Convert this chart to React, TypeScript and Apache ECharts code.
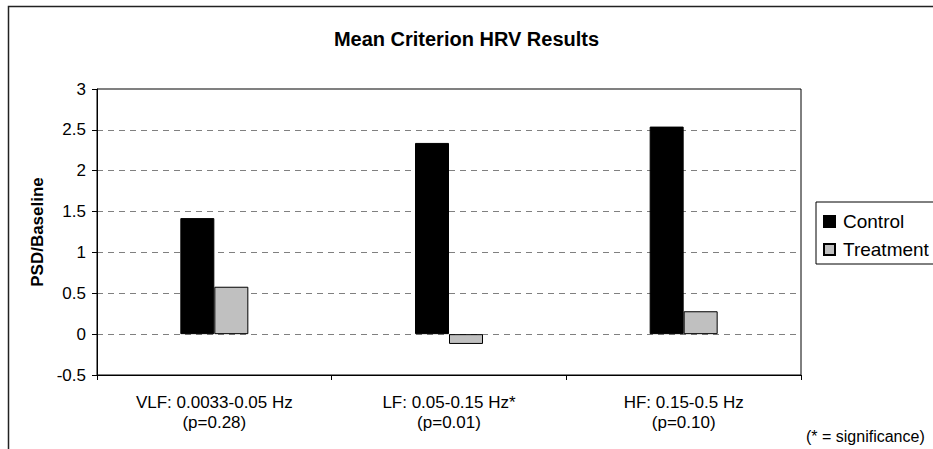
import React, { useEffect, useRef } from "react";
import * as echarts from "echarts";

const categories = ["VLF: 0.0033-0.05 Hz\n(p=0.28)", "LF: 0.05-0.15 Hz*\n(p=0.01)", "HF: 0.15-0.5 Hz\n(p=0.10)"];
const controlValues = [1.42, 2.34, 2.54];
const treatmentValues = [0.58, -0.12, 0.28];
const seriesNames = ["Control", "Treatment"];
const titleText = "Mean Criterion HRV Results";
const yAxisName = "PSD/Baseline";
const noteText = "(* = significance)";

const FONT = "'Liberation Sans', Arial, sans-serif";

export default function App() {
  const ref = useRef<HTMLDivElement>(null);
  useEffect(() => {
    document.body.style.margin = "0";
    const chart = echarts.init(ref.current!, null, { renderer: "svg" });
    chart.setOption({
      animation: false,
      backgroundColor: "#ffffff",
      textStyle: { fontFamily: FONT, color: "#000" },
      title: {
        text: titleText,
        left: "center",
        top: 24,
        textStyle: { fontFamily: FONT, fontSize: 20, fontWeight: "bold", color: "#000" },
      },
      legend: {
        orient: "vertical",
        left: 816,
        top: 202,
        padding: [10, 12, 5, 7],
        itemGap: 9,
        itemWidth: 11,
        itemHeight: 11,
        icon: "rect",
        borderColor: "#000",
        borderWidth: 1,
        textStyle: { fontFamily: FONT, fontSize: 19, color: "#000", padding: [0, 0, 0, 3] },
        data: seriesNames,
      },
      grid: {
        left: 97,
        top: 89,
        right: 132,
        bottom: 74,
        show: true,
        borderColor: "#000",
        borderWidth: 1,
        containLabel: false,
      },
      xAxis: {
        type: "category",
        data: categories,
        axisLine: { show: true, onZero: false, lineStyle: { color: "#000", width: 1 } },
        axisTick: { show: true, alignWithLabel: false, interval: 0, length: 5, lineStyle: { color: "#000" } },
        axisLabel: { interval: 0, fontFamily: FONT, fontSize: 17, lineHeight: 20, color: "#000", margin: 17, align: "center" },
        splitLine: { show: false },
      },
      yAxis: {
        type: "value",
        min: -0.5,
        max: 3,
        interval: 0.5,
        name: yAxisName,
        nameLocation: "middle",
        nameRotate: 90,
        nameGap: 49,
        nameTextStyle: { fontFamily: FONT, fontSize: 17, fontWeight: "bold", color: "#000" },
        axisLine: { show: true, lineStyle: { color: "#000", width: 1 } },
        axisTick: { show: true, length: 5, lineStyle: { color: "#000" } },
        axisLabel: { fontFamily: FONT, fontSize: 17, color: "#000", margin: 11 },
        splitLine: { show: true, lineStyle: { color: "#808080", type: [6, 5], width: 1 } },
      },
      series: [
        {
          name: seriesNames[0],
          type: "bar",
          data: controlValues,
          barWidth: 34,
          barGap: "0%",
          itemStyle: { color: "#000000", borderColor: "#000", borderWidth: 1 },
        },
        {
          name: seriesNames[1],
          type: "bar",
          data: treatmentValues,
          barWidth: 34,
          barGap: "0%",
          itemStyle: { color: "#C0C0C0", borderColor: "#000", borderWidth: 1 },
        },
      ],
      graphic: [
        {
          type: "rect",
          silent: true,
          shape: { x: 8.5, y: 6.5, width: 1000, height: 1000 },
          style: { fill: "none", stroke: "#222", lineWidth: 1.5 },
        },
        {
          type: "text",
          left: 806,
          top: 428,
          style: { text: noteText, font: `16px ${FONT}`, fill: "#000" },
        },
      ],
    });
    return () => chart.dispose();
  }, []);
  return <div ref={ref} style={{ width: 933, height: 449 }} />;
}
